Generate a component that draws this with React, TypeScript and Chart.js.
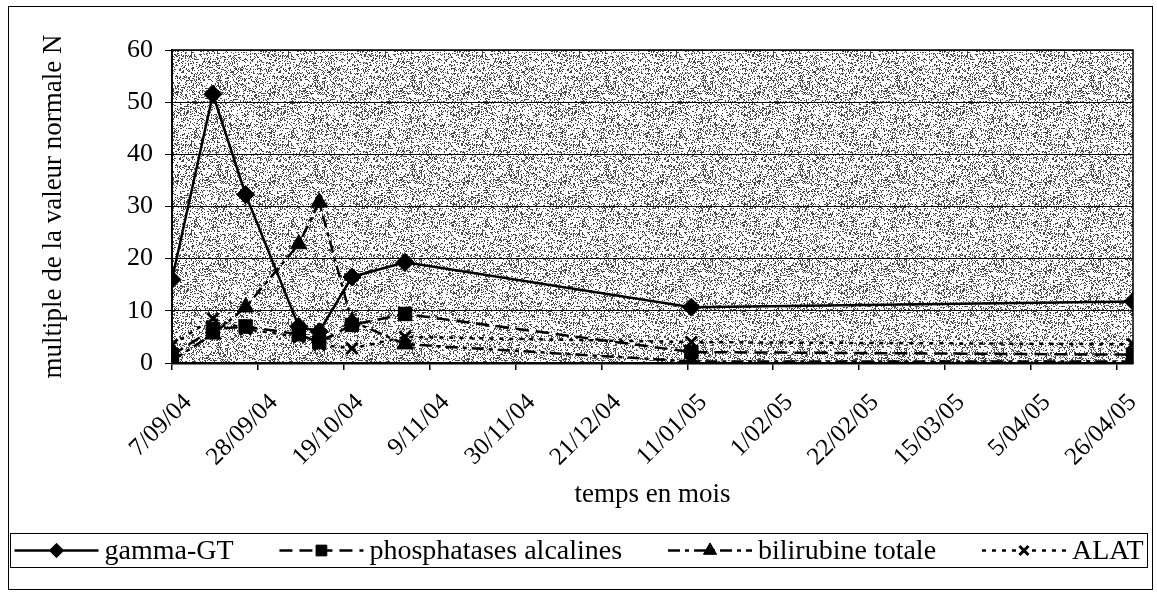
import React, { useEffect, useRef } from 'react';
import { Chart, registerables } from 'chart.js';
import { drawPoint } from 'chart.js/helpers';

Chart.register(...registerables);

// ---- data ----
const sampleDates = ['2004-09-07', '2004-09-17', '2004-09-25', '2004-10-08', '2004-10-13', '2004-10-21', '2004-11-03', '2005-01-12', '2005-04-30'];
const gammaGT = [16, 51.5, 32.3, 7, 6, 16.5, 19.3, 10.7, 11.8];
const phosphatases = [1.5, 6.5, 7, 5.5, 4, 7.3, 9.4, 2.1, 1.6];
const bilirubine = [0.5, 5.5, 10.7, 22.8, 30.8, 8, 3.6, 0.3, 0.3];
const alat = [3.5, 8.5, 6.5, 5, 3.5, 2.8, 5, 4, 3.6];
const seriesNames = ['gamma-GT', 'phosphatases alcalines', 'bilirubine totale', 'ALAT'];
const tickLabels = ['7/09/04', '28/09/04', '19/10/04', '9/11/04', '30/11/04', '21/12/04', '11/01/05', '1/02/05', '22/02/05', '15/03/05', '5/04/05', '26/04/05'];
const yMin = 0;
const yMax = 60;
const yStep = 10;
const xTitle = 'temps en mois';
const yTitle = 'multiple de la valeur normale N';

const FONT = "'Liberation Serif', 'Times New Roman', serif";
const DAY = 86400000;
const startMs = Date.UTC(2004, 8, 7);
const isoToDay = (s: string) => {
  const [y, m, d] = s.split('-').map(Number);
  return Math.round((Date.UTC(y, m - 1, d) - startMs) / DAY);
};
const labelToDay = (s: string) => {
  const [d, m, y] = s.split('/').map(Number);
  return Math.round((Date.UTC(2000 + y, m - 1, d) - startMs) / DAY);
};
const sampleDays = sampleDates.map(isoToDay);
const tickDays = tickLabels.map(labelToDay);
const toPoints = (vals: number[]) => vals.map((v, i) => ({ x: sampleDays[i], y: v }));

function makePattern(ctx: CanvasRenderingContext2D) {
  const c = document.createElement('canvas');
  c.width = 97;
  c.height = 89;
  const g = c.getContext('2d')!;
  const img = g.createImageData(c.width, c.height);
  let s = 12345;
  for (let i = 0; i < c.width * c.height; i++) {
    s = (s * 1103515245 + 12345) & 0x7fffffff;
    const dark = (s >> 8) % 100 < 26;
    const v = dark ? 70 : 255;
    img.data[i * 4] = v;
    img.data[i * 4 + 1] = v;
    img.data[i * 4 + 2] = v;
    img.data[i * 4 + 3] = 255;
  }
  g.putImageData(img, 0, 0);
  return ctx.createPattern(c, 'repeat');
}

const framePlugin = {
  id: 'frame',
  beforeDraw(chart: any) {
    const { ctx, chartArea: a } = chart;
    ctx.save();
    ctx.fillStyle = '#ffffff';
    ctx.fillRect(0, 0, chart.width, chart.height);
    ctx.strokeStyle = '#000';
    ctx.lineWidth = 1;
    ctx.strokeRect(8.5, 6.5, 1144, 583);
    const pat = makePattern(ctx);
    ctx.fillStyle = pat || '#b8b8b8';
    ctx.fillRect(a.left, a.top, a.right - a.left, a.bottom - a.top);
    ctx.restore();
  },
  afterDatasetsDraw(chart: any) {
    const { ctx, chartArea: a } = chart;
    ctx.save();
    ctx.strokeStyle = '#000';
    ctx.lineWidth = 1.5;
    ctx.strokeRect(a.left, a.top, a.right - a.left, a.bottom - a.top);
    ctx.restore();
  },
};

const legendPlugin = {
  id: 'excelLegend',
  afterDraw(chart: any) {
    const { ctx } = chart;
    const bx = 10.5, by = 533.5, bw = 1137, bh = 34;
    ctx.save();
    ctx.strokeStyle = '#000';
    ctx.lineWidth = 1;
    ctx.strokeRect(bx, by, bw, bh);
    ctx.font = `28px ${FONT}`;
    ctx.textBaseline = 'middle';
    ctx.textAlign = 'left';
    const sample = 84;
    const gap = 6;
    const widths = chart.data.datasets.map((d: any) => ctx.measureText(d.label).width);
    const total = widths.reduce((s: number, w: number) => s + w + sample + gap, 0);
    const pad = 4;
    const spacing = (bw - 2 * pad - total) / (widths.length - 1);
    let x = bx + pad;
    const cy = by + bh / 2;
    chart.data.datasets.forEach((d: any, i: number) => {
      ctx.strokeStyle = '#000';
      ctx.fillStyle = '#000';
      ctx.lineWidth = d.borderWidth;
      ctx.setLineDash(d.borderDash || []);
      ctx.beginPath();
      ctx.moveTo(x, cy);
      ctx.lineTo(x + sample, cy);
      ctx.stroke();
      ctx.setLineDash([]);
      ctx.lineWidth = d.pointBorderWidth;
      drawPoint(ctx, { pointStyle: d.pointStyle, radius: d.pointRadius * 0.8, rotation: 0, borderWidth: d.pointBorderWidth }, x + sample / 2, cy);
      ctx.fillStyle = '#000';
      ctx.fillText(d.label, x + sample + gap, cy + 1);
      x += sample + gap + widths[i] + spacing;
    });
    ctx.restore();
  },
};

export default function App() {
  const ref = useRef<HTMLCanvasElement | null>(null);
  useEffect(() => {
    if (!ref.current) return;
    const common = {
      borderColor: '#000',
      pointBackgroundColor: '#000',
      pointBorderColor: '#000',
      fill: false,
      tension: 0,
    };
    const chart = new Chart(ref.current, {
      type: 'line',
      data: {
        datasets: [
          { ...common, label: seriesNames[0], data: toPoints(gammaGT), borderWidth: 2.5, pointStyle: 'rectRot', pointRadius: 9, pointBorderWidth: 1 },
          { ...common, label: seriesNames[1], data: toPoints(phosphatases), borderWidth: 2.5, borderDash: [13, 7], pointStyle: 'rect', pointRadius: 9.5, pointBorderWidth: 1 },
          { ...common, label: seriesNames[2], data: toPoints(bilirubine), borderWidth: 2.5, borderDash: [12, 5, 4, 5], pointStyle: 'triangle', pointRadius: 9.5, pointBorderWidth: 1 },
          { ...common, label: seriesNames[3], data: toPoints(alat), borderWidth: 2.5, borderDash: [4, 6], pointStyle: 'crossRot', pointRadius: 8, pointBorderWidth: 3 },
        ] as any,
      },
      options: {
        animation: false,
        responsive: false,
        events: [],
        layout: { padding: { left: 8, right: 24, top: 50, bottom: 81 } },
        plugins: { legend: { display: false }, tooltip: { enabled: false } },
        scales: {
          x: {
            type: 'linear',
            min: 0,
            max: sampleDays[sampleDays.length - 1],
            afterBuildTicks: (axis: any) => {
              axis.ticks = tickDays.map((v) => ({ value: v }));
            },
            afterFit: (s: any) => {
              s.height = 152;
            },
            ticks: {
              autoSkip: false,
              minRotation: 45,
              maxRotation: 45,
              color: '#000',
              padding: 18,
              labelOffset: 16,
              font: { family: FONT, size: 25 },
              callback: (v: any) => {
                const i = tickDays.indexOf(Number(v));
                return i >= 0 ? tickLabels[i] : '';
              },
            },
            grid: { drawOnChartArea: false, color: '#000', tickLength: 7, lineWidth: 1.5 },
            border: { color: '#000', width: 2.5 },
            title: { display: true, text: xTitle, color: '#000', font: { family: FONT, size: 27 }, padding: { top: 0, bottom: 4 } },
          },
          y: {
            type: 'linear',
            min: yMin,
            max: yMax,
            afterFit: (s: any) => {
              s.width = 164;
            },
            ticks: { stepSize: yStep, color: '#000', padding: 12, font: { family: FONT, size: 26 } },
            grid: { color: '#000', lineWidth: 1, tickLength: 7 },
            border: { color: '#000', width: 2 },
            title: { display: true, text: yTitle, color: '#000', font: { family: FONT, size: 27 }, padding: { top: 30, bottom: 0 } },
          },
        },
      } as any,
      plugins: [framePlugin, legendPlugin],
    });
    return () => chart.destroy();
  }, []);
  return (
    <div style={{ position: 'fixed', left: 0, top: 0, width: 1157, height: 596 }}>
      <canvas ref={ref} width={1157} height={596} style={{ display: 'block', width: 1157, height: 596 }} />
    </div>
  );
}
